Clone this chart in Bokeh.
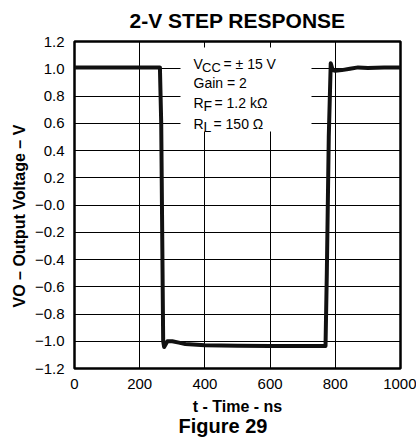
from bokeh.plotting import figure
from bokeh.models import Range1d, FixedTicker, Label, Title
from bokeh.embed import file_html
from bokeh.resources import INLINE

# ---- data ----
t_ns = [0, 100, 200, 262, 266, 272, 275, 285, 300, 320, 340, 400, 500, 600, 700,
        770, 774, 780, 786, 792, 800, 820, 845, 870, 900, 950, 1000]
v_out = [1.01, 1.01, 1.01, 1.01, 0.6, -1.0, -1.042, -1.0, -1.0, -1.01, -1.02, -1.03,
         -1.033, -1.035, -1.035, -1.035, -0.5, 0.5, 1.04, 0.99, 0.985, 0.99, 1.0,
         1.01, 1.005, 1.01, 1.01]

x_ticks = [0, 200, 400, 600, 800, 1000]
y_ticks = [-1.2, -1.0, -0.8, -0.6, -0.4, -0.2, 0.0, 0.2, 0.4, 0.6, 0.8, 1.0, 1.2]
y_tick_labels = ["\u22121.2", "\u22121.0", "\u22120.8", "\u22120.6", "\u22120.4", "\u22120.2",
                 "\u22120.0", "0.2", "0.4", "0.6", "0.8", "1.0", "1.2"]

title_text = "2-V STEP RESPONSE"
x_label = "t - Time - ns"
y_label = "VO \u2013 Output Voltage \u2013 V"
fig_caption = "Figure 29"

X_MIN, X_MAX = 0, 1000
Y_MIN, Y_MAX = -1.2, 1.2

# frame position on the page (pixels); canvas starts at page (0, 0)
FX0, FX1, FY0, FY1 = 74, 400, 41, 368
W, H = 416, 447

def dx(px):
    return X_MIN + (px - FX0) / (FX1 - FX0) * (X_MAX - X_MIN)

def dy(py):
    return Y_MAX - (py - FY0) / (FY1 - FY0) * (Y_MAX - Y_MIN)

FONT = "Liberation Sans"

p = figure(width=W, height=H, x_range=Range1d(X_MIN, X_MAX), y_range=Range1d(Y_MIN, Y_MAX),
           output_backend="svg", toolbar_location=None, title=None,
           min_border_left=FX0, min_border_right=W - FX1,
           min_border_top=FY0, min_border_bottom=H - FY1)
p.background_fill_color = "white"
p.border_fill_color = "white"
p.outline_line_color = "black"
p.outline_line_width = 2.5

# titles
p.add_layout(Title(text=title_text, align="center", vertical_align="top", text_font=FONT,
                   text_font_size="21px", text_font_style="bold", text_color="black",
                   standoff=15), "above")
p.add_layout(Title(text=fig_caption, align="left", offset=178 - FX0, text_font=FONT,
                   text_font_size="20px", text_font_style="bold", text_color="black",
                   standoff=-10), "below")
p.add_layout(Title(text=y_label, align="left", offset=FY1 - 307, text_font=FONT,
                   text_font_size="16px", text_font_style="bold", text_color="black",
                   standoff=8), "left")

# axes
p.xaxis.ticker = FixedTicker(ticks=x_ticks)
p.yaxis.ticker = FixedTicker(ticks=y_ticks)
p.yaxis.major_label_overrides = {v: s for v, s in zip(y_ticks, y_tick_labels)}
for ax in (p.xaxis, p.yaxis):
    ax.axis_line_color = None
    ax.major_tick_line_color = None
    ax.minor_tick_line_color = None
    ax.major_tick_in = 0
    ax.major_tick_out = 0
    ax.minor_tick_in = 0
    ax.minor_tick_out = 0
    ax.major_label_text_font = FONT
    ax.major_label_text_font_size = "15px"
    ax.major_label_text_color = "black"
    ax.axis_label_text_font = FONT
    ax.axis_label_text_font_size = "16px"
    ax.axis_label_text_font_style = "bold"
    ax.axis_label_text_color = "black"
p.xaxis.major_label_standoff = 10
p.yaxis.major_label_standoff = 10
p.xaxis.axis_label = x_label
p.xaxis.axis_label_standoff = 6

# grid
p.xgrid.ticker = FixedTicker(ticks=x_ticks)
p.ygrid.ticker = FixedTicker(ticks=y_ticks)
for g in (p.xgrid, p.ygrid):
    g.grid_line_color = "black"
    g.grid_line_width = 1
    g.grid_line_alpha = 1.0

# white box behind the annotation text
p.quad(left=[dx(180)], right=[dx(311)], bottom=[dy(131)], top=[dy(47)],
       fill_color="white", line_color=None)

# waveform
p.line(t_ns, v_out, line_color="#111111", line_width=4, line_join="round")

def lab(px, py, text, size):
    p.add_layout(Label(x=dx(px), y=dy(py), text=text, text_font=FONT,
                       text_font_size=f"{size}px", text_align="left",
                       text_baseline="alphabetic", text_color="black"))

# conditions text box
lab(193, 63.5, "V", 14)
lab(201.5, 67, "CC", 13)
lab(223, 63.5, "= \u00b1 15 V", 14)
lab(193, 82.5, "Gain = 2", 14)
lab(193, 102, "R", 14)
lab(203, 105.5, "F", 14)
lab(214, 102, "= 1.2 k\u03a9", 14)
lab(193, 123, "R", 14)
lab(203, 126.5, "L", 14)
lab(213, 123, "= 150 \u03a9", 14)

open("out.html", "w").write(file_html(p, INLINE))
